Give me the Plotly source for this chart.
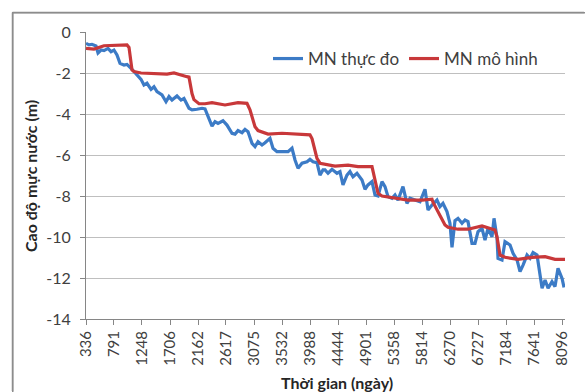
import plotly.graph_objects as go

# Tick labels on the time axis (days)
x_ticks = [336, 791, 1248, 1706, 2162, 2617, 3075, 3532, 3988, 4444,
           4901, 5358, 5814, 6270, 6727, 7184, 7641, 8096]
y_ticks = [0, -2, -4, -6, -8, -10, -12, -14]

# Observed water level (MN thực đo)
obs_day = [336, 385, 434, 499, 532, 581, 629, 695, 744, 792, 841, 890, 955, 1004,
           1070, 1118, 1167, 1233, 1281, 1330, 1396, 1444, 1493, 1575, 1640, 1689,
           1738, 1819, 1885, 1933, 2015, 2064, 2145, 2227, 2276, 2325, 2390, 2439,
           2488, 2569, 2634, 2716, 2765, 2814, 2879, 2928, 2977, 3042, 3091, 3140,
           3205, 3254, 3335, 3384, 3449, 3547, 3629, 3694, 3743, 3792, 3857, 3939,
           3987, 4036, 4101, 4150, 4199, 4232, 4281, 4346, 4427, 4476, 4525, 4590,
           4639, 4688, 4753, 4835, 4884, 4933, 4998, 5047, 5096, 5161, 5210, 5259,
           5324, 5373, 5422, 5503, 5568, 5617, 5699, 5780, 5862, 5911, 5976, 6057,
           6106, 6155, 6220, 6269, 6302, 6351, 6400, 6465, 6514, 6563, 6628, 6677,
           6726, 6791, 6840, 6889, 6954, 6987, 7036, 7052, 7117, 7166, 7248, 7297,
           7362, 7411, 7460, 7525, 7574, 7623, 7688, 7737, 7770, 7819, 7868, 7932,
           7981, 8030, 8096, 8128]
obs_level = [-0.55, -0.63, -0.60, -0.68, -1.02, -0.88, -0.91, -0.80, -0.96, -0.88,
             -1.12, -1.53, -1.61, -1.58, -1.77, -1.93, -2.10, -2.31, -2.59, -2.50,
             -2.80, -2.67, -2.91, -3.07, -3.40, -3.15, -3.32, -3.12, -3.32, -3.24,
             -3.72, -3.80, -3.77, -3.72, -3.75, -4.13, -4.59, -4.37, -4.46, -4.33,
             -4.54, -4.94, -4.98, -4.81, -4.91, -4.75, -4.86, -5.43, -5.59, -5.35,
             -5.51, -5.40, -5.19, -5.67, -5.84, -5.84, -5.84, -5.67, -6.24, -6.65,
             -6.40, -6.33, -6.21, -6.33, -6.37, -6.98, -6.73, -6.73, -6.89, -6.70,
             -6.89, -6.81, -7.46, -6.98, -6.81, -7.06, -6.89, -7.22, -7.67, -7.46,
             -7.30, -7.95, -8.00, -7.30, -7.54, -8.03, -8.11, -7.95, -8.20, -7.54,
             -8.36, -8.11, -8.20, -8.28, -7.67, -8.68, -8.44, -8.20, -8.52, -8.36,
             -8.76, -9.33, -10.50, -9.20, -9.09, -9.33, -9.17, -9.25, -10.31, -10.31,
             -9.74, -9.58, -10.15, -9.58, -9.99, -9.09, -10.06, -11.04, -11.12, -10.23,
             -10.39, -10.80, -11.12, -11.69, -11.37, -10.88, -11.04, -10.76, -10.88, -11.85,
             -12.50, -12.10, -12.50, -12.18, -12.42, -11.53, -12.02, -12.46]

# Modelled water level (MN mô hình)
mod_day = [336, 466, 629, 1004, 1037, 1086, 1118, 1233, 1656, 1770, 1982, 2015,
           2064, 2096, 2178, 2276, 2390, 2602, 2814, 2960, 3009, 3091, 3140, 3303,
           3531, 3792, 3987, 4020, 4101, 4150, 4281, 4395, 4607, 4770, 4998, 5014,
           5096, 5161, 5324, 5585, 5813, 5976, 5992, 6188, 6237, 6400, 6563, 6791,
           7003, 7036, 7085, 7166, 7378, 7607, 7819, 7981, 8144]
mod_level = [-0.80, -0.83, -0.67, -0.63, -0.75, -1.85, -1.93, -2.00, -2.05, -2.00,
             -2.18, -2.20, -3.00, -3.30, -3.50, -3.50, -3.45, -3.56, -3.45, -3.48,
             -3.80, -4.62, -4.81, -4.98, -4.94, -5.00, -5.02, -5.20, -6.16, -6.40,
             -6.49, -6.54, -6.49, -6.57, -6.57, -6.80, -7.87, -8.00, -8.07, -8.20,
             -8.20, -8.16, -8.30, -9.41, -9.53, -9.62, -9.62, -9.46, -9.66, -10.00,
             -10.88, -10.99, -11.09, -10.99, -10.96, -11.09, -11.09]

W, H = 585, 392
L, R, T, B = 86, 20, 32, 73
pw, ph = W - L - R, H - T - B


def px(xp):
    return (xp - L) / pw


def py(yp):
    return (H - B - yp) / ph


fig = go.Figure()
fig.add_trace(go.Scatter(x=obs_day, y=obs_level, mode="lines", name="MN thực đo",
                         line=dict(color="#3C7BC6", width=3.2)))
fig.add_trace(go.Scatter(x=mod_day, y=mod_level, mode="lines", name="MN mô hình",
                         line=dict(color="#C8383A", width=3.2)))

axis_color = "#868686"
frame_color = "#8C8C8C"
fig.update_xaxes(range=[336, 8144], tickmode="array", tickvals=x_ticks,
                 ticktext=[str(v) for v in x_ticks], tickangle=-90,
                 ticks="outside", ticklen=5, tickcolor=axis_color,
                 showline=True, linecolor=axis_color, linewidth=1,
                 showgrid=False, zeroline=False, automargin=False,
                 tickfont=dict(size=15, color="#404040"))
fig.update_yaxes(range=[-14, 0], tickmode="array", tickvals=y_ticks,
                 ticktext=[str(v) for v in y_ticks],
                 ticks="outside", ticklen=5, tickcolor=axis_color,
                 showline=True, linecolor=axis_color, linewidth=1,
                 showgrid=True, gridcolor="#BFBFBF", gridwidth=1, zeroline=False,
                 ticklabelstandoff=6, automargin=False,
                 tickfont=dict(size=16, color="#404040"))

fx0, fy0 = px(12.5), py(12.5)
fig.update_layout(
    width=W, height=H,
    margin=dict(l=L, r=R, t=T, b=B),
    paper_bgcolor="white", plot_bgcolor="white",
    font=dict(family="Lato", color="#404040"),
    showlegend=True,
    legend=dict(orientation="h", x=px(268), xanchor="left", y=py(41), yanchor="top",
                bgcolor="rgba(0,0,0,0)", font=dict(size=17, color="#404040"),
                itemwidth=30),
    shapes=[
        dict(type="rect", xref="paper", yref="paper", x0=px(265), x1=px(538),
             y0=py(77), y1=py(36), fillcolor="white", line=dict(width=0),
             layer="between"),
        dict(type="line", xref="paper", yref="paper", x0=fx0, x1=px(584),
             y0=fy0, y1=fy0, line=dict(color=frame_color, width=1.5)),
        dict(type="line", xref="paper", yref="paper", x0=fx0, x1=fx0,
             y0=py(391), y1=fy0, line=dict(color=frame_color, width=1.5)),
    ],
    annotations=[
        dict(text="&nbsp;", xref="paper", yref="paper", x=px(12), y=py(12),
             xanchor="left", yanchor="top", showarrow=False,
             width=620, height=420, bordercolor=frame_color, borderwidth=1.5,
             borderpad=0, bgcolor="rgba(0,0,0,0)"),
        dict(text="<b>Cao độ mực nước (m)</b>", xref="paper", yref="paper",
             x=px(30), y=py(176), textangle=-90, showarrow=False,
             font=dict(size=16, color="#262626"), xanchor="center", yanchor="middle"),
        dict(text="<b>Thời gian (ngày)</b>", xref="paper", yref="paper",
             x=px(337), y=py(382), showarrow=False,
             font=dict(size=16, color="#262626"), xanchor="center", yanchor="middle"),
    ],
)

fig.write_html("out.html")
